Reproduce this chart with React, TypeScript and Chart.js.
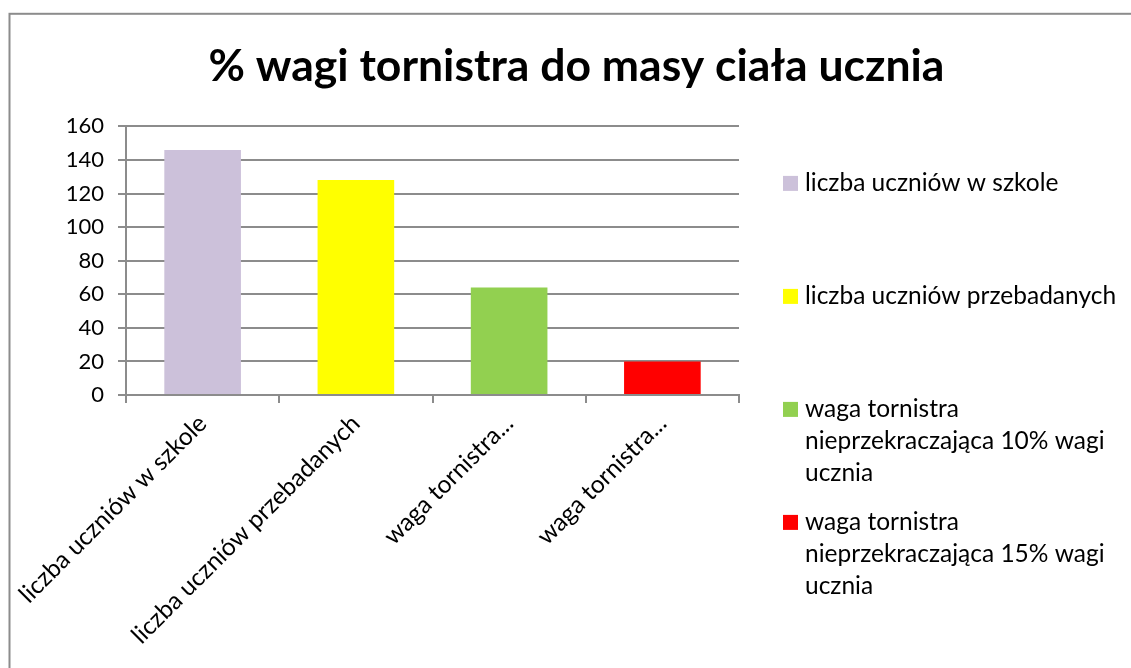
import React, { useEffect, useRef } from "react";
import { Chart, registerables } from "chart.js";

Chart.register(...registerables);

const titleText = "% wagi tornistra do masy ciała ucznia";
const categories = [
  "liczba uczniów w szkole",
  "liczba uczniów przebadanych",
  "waga tornistra nieprzekraczająca 10% wagi ucznia",
  "waga tornistra nieprzekraczająca 15% wagi ucznia",
];
const tickLabels = [
  "liczba uczniów w szkole",
  "liczba uczniów przebadanych",
  "waga tornistra...",
  "waga tornistra...",
];
const values = [146, 128, 64, 20];
const barColors = ["#CCC1DA", "#FFFF00", "#92D050", "#FF0000"];
const yMin = 0;
const yMax = 160;
const yStep = 20;

const FONT = "Lato";
const FS = 24.5;
const YFS = 22;
const TFS = 44.5;
const GRID = "#8c8c8c";

function wrap(ctx: CanvasRenderingContext2D, text: string, maxW: number): string[] {
  const words = text.split(" ");
  const lines: string[] = [];
  let cur = "";
  for (const w of words) {
    const t = cur ? cur + " " + w : w;
    if (ctx.measureText(t).width > maxW && cur) {
      lines.push(cur);
      cur = w;
    } else cur = t;
  }
  if (cur) lines.push(cur);
  return lines;
}

const framePlugin = {
  id: "frame",
  beforeDraw(chart: any) {
    const ctx = chart.ctx as CanvasRenderingContext2D;
    ctx.save();
    ctx.fillStyle = "#ffffff";
    ctx.fillRect(0, 0, chart.width, chart.height);
    ctx.strokeStyle = GRID;
    ctx.lineWidth = 2;
    ctx.strokeRect(9.5, 13.8, chart.width + 20, chart.height + 20);
    ctx.restore();
  },
};

const legendPlugin = {
  id: "sideLegend",
  afterDraw(chart: any) {
    const ctx = chart.ctx as CanvasRenderingContext2D;
    const area = chart.chartArea;
    const labels = chart.data.labels as string[];
    const colors = chart.data.datasets[0].backgroundColor as string[];
    ctx.save();
    ctx.font = `${FS}px ${FONT}`;
    ctx.textBaseline = "middle";
    ctx.textAlign = "left";
    const boxX = area.right + 44;
    const textX = area.right + 66;
    const step = 113;
    const lineH = 32;
    let y = area.top + 57;
    labels.forEach((lab, i) => {
      const lines = wrap(ctx, lab, 320);
      ctx.fillStyle = colors[i];
      ctx.fillRect(boxX, y - 7.5, 15, 15);
      ctx.fillStyle = "#000000";
      lines.forEach((ln, j) => ctx.fillText(ln, textX, y + j * lineH));
      y += step;
    });
    ctx.restore();
  },
};

export default function App() {
  const ref = useRef<HTMLCanvasElement | null>(null);
  useEffect(() => {
    if (!ref.current) return;
    const chart = new Chart(ref.current, {
      type: "bar",
      data: {
        labels: categories,
        datasets: [
          {
            data: values,
            backgroundColor: barColors,
            borderWidth: 0,
            categoryPercentage: 1,
            barPercentage: 0.5,
          },
        ],
      },
      options: {
        responsive: false,
        animation: false,
        devicePixelRatio: 1,
        layout: { padding: { left: 22, right: 0, top: 0, bottom: 0 } },
        plugins: {
          legend: { display: false },
          tooltip: { enabled: false },
          title: {
            display: true,
            align: "center",
            text: titleText,
            color: "#000000",
            font: { family: FONT, size: TFS, weight: "bold" },
            padding: { top: 40, bottom: 33 },
          },
        },
        scales: {
          x: {
            offset: true,
            grid: {
              display: true,
              offset: true,
              drawOnChartArea: false,
              drawTicks: true,
              tickLength: 8,
              color: GRID,
              lineWidth: 2,
            },
            border: { display: true, color: GRID, width: 2 },
            ticks: {
              autoSkip: false,
              minRotation: 45,
              maxRotation: 45,
              color: "#000000",
              padding: 6,
              font: { family: FONT, size: FS },
              callback: (_v: any, i: number) => tickLabels[i],
            },
            afterFit: (s: any) => {
              s.height = 273;
            },
          },
          y: {
            min: yMin,
            max: yMax,
            ticks: {
              stepSize: yStep,
              color: "#000000",
              padding: 14,
              font: { family: FONT, size: YFS },
            },
            grid: {
              color: GRID,
              lineWidth: 2,
              tickLength: 8,
              drawTicks: true,
            },
            border: { display: true, color: GRID, width: 2 },
            afterFit: (s: any) => {
              s.width = 104;
            },
          },
          legendSpace: {
            type: "linear",
            position: "right",
            display: true,
            grid: { display: false, drawOnChartArea: false, drawTicks: false },
            border: { display: false },
            ticks: { display: false },
            afterFit: (s: any) => {
              s.width = 392;
            },
          },
        },
      },
      plugins: [framePlugin, legendPlugin],
    });
    return () => chart.destroy();
  }, []);
  return (
    <div style={{ position: "fixed", left: 0, top: 0, width: 1131, height: 668 }}>
      <canvas ref={ref} width={1131} height={668} style={{ width: 1131, height: 668, display: "block" }} />
    </div>
  );
}
